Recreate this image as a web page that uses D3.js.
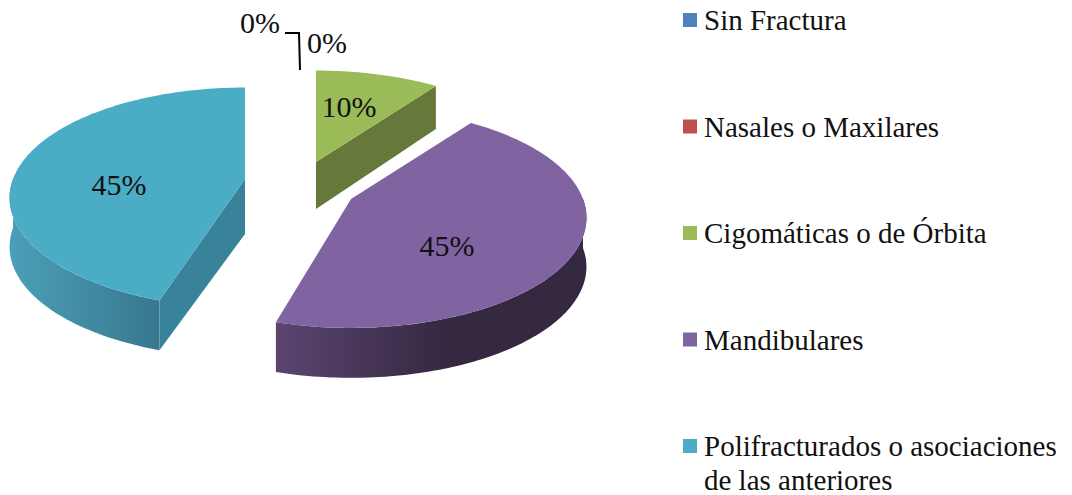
<!DOCTYPE html>
<html>
<head>
<meta charset="utf-8">
<script src="https://cdn.jsdelivr.net/npm/d3@7"></script>
<style>
  html, body { margin: 0; padding: 0; background: #fff; }
  text { font-family: "Liberation Serif", serif; fill: #111; }
</style>
</head>
<body>
<div id="chart"></div>
<script>
const categories = ["Sin Fractura", "Nasales o Maxilares", "Cigomáticas o de Órbita", "Mandibulares", "Polifracturados o asociaciones"];
const values = [0, 0, 10, 45, 45];
const percentLabels = ["0%", "0%", "10%", "45%", "45%"];
const colors = ["#4f81bd", "#c0504d", "#9bbb59", "#8064a2", "#4bacc6"];
const wallColors = ["#3b618e", "#903c3a", "#67793a", "#5b4570", "#38829a"];
const wallDark = ["#2c4a6c", "#6e2e2c", "#55632f", "#352841", "#37788e"];

const width = 1072, height = 495;
const rx = 232, ry = 107, persp = 0.17, depth = 49;

// where each slice's tip ended up after exploding
const tips = [[300, 70], [300, 70], [316, 162], [351, 199], [245, 179]];
const tipDepth = [0, 0, 47, 49, 55];
const endTrim = [0, 0, 0, 0.04, 0];
const labelPos = [[260, 33], [327, 53], [349, 117], [447, 256], [119, 195]];

const svg = d3.select("#chart").append("svg")
  .attr("width", width)
  .attr("height", height);

const defs = svg.append("defs");

const pie = d3.pie().value(d => d).sort(null);
const arcs = pie(values);

// tilted circle with a bit of perspective, front is bigger than back
function project(a, r) {
  const u = Math.sin(a) * r, v = -Math.cos(a) * r;
  const s = 1 / (1 - persp * v);
  return { x: rx * u * s, y: ry * v * s, s: s };
}

function sample(a0, a1) {
  const n = Math.max(2, Math.ceil(Math.abs(a1 - a0) / 0.02));
  return d3.range(n + 1).map(i => a0 + (a1 - a0) * i / n);
}

const line = d3.line().x(d => d[0]).y(d => d[1]);
const wallDrop = p => depth * (p.s < 1 ? p.s : Math.pow(p.s, 0.1));

arcs.forEach((d, i) => {
  if (d.value === 0) return;
  const tip = tips[i];
  const end = d.endAngle - endTrim[i];
  const g = svg.append("g").attr("transform", `translate(${tip[0]},${tip[1]})`);
  const rim = sample(d.startAngle, end).map(a => project(a, 1));

  // outer wall, only the front half can be seen
  const lo = Math.max(d.startAngle, Math.PI / 2), hi = Math.min(end, 3 * Math.PI / 2);
  if (hi > lo) {
    const pts = sample(lo, hi).map(a => project(a, 1));
    const top = pts.map(p => [p.x, p.y]);
    const bottom = pts.slice().reverse().map(p => [p.x, p.y + wallDrop(p)]);
    const gradId = "wall" + i;
    const xs = d3.extent(pts, p => p.x);
    const grad = defs.append("linearGradient").attr("id", gradId)
      .attr("gradientUnits", "userSpaceOnUse")
      .attr("x1", xs[0]).attr("x2", xs[1]).attr("y1", 0).attr("y2", 0);
    if (i === 3) {
      grad.append("stop").attr("offset", 0).attr("stop-color", wallColors[i]);
      grad.append("stop").attr("offset", 0.55).attr("stop-color", wallDark[i]);
      grad.append("stop").attr("offset", 1).attr("stop-color", wallDark[i]);
    } else {
      grad.append("stop").attr("offset", 0).attr("stop-color", "#4b9fb8");
      grad.append("stop").attr("offset", 1).attr("stop-color", wallDark[i]);
    }
    g.append("path")
      .attr("d", line(top.concat(bottom)) + "Z")
      .attr("fill", `url(#${gradId})`);
  }

  // flat cut wall: green faces along its end edge, blue along its start edge
  if (i === 2 || i === 4) {
    const p = project(i === 2 ? d.endAngle : d.startAngle, 1);
    const cut = [[0, 0], [p.x, p.y], [p.x, p.y + wallDrop(p)], [0, tipDepth[i]]];
    g.append("path")
      .attr("d", line(cut) + "Z")
      .attr("fill", wallColors[i]);
  }

  // top face
  const face = [[0, 0]].concat(rim.map(p => [p.x, p.y]));
  g.append("path")
    .attr("d", line(face) + "Z")
    .attr("fill", colors[i]);
});

// leader line for the empty slices
svg.append("path")
  .attr("d", line([[labelPos[0][0] + 25, labelPos[0][1]], [tips[0][0] - 1, labelPos[0][1]], tips[0]]))
  .attr("fill", "none")
  .attr("stroke", "#000")
  .attr("stroke-width", 2);

svg.selectAll("text.pct")
  .data(percentLabels)
  .join("text")
  .attr("class", "pct")
  .attr("x", (d, i) => labelPos[i][0])
  .attr("y", (d, i) => labelPos[i][1])
  .attr("text-anchor", "middle")
  .attr("font-size", 30)
  .text(d => d);

// legend
const legendY = d3.scalePoint().domain(categories).range([20, 446]);

const legend = svg.selectAll("g.legend")
  .data(categories)
  .join("g")
  .attr("class", "legend")
  .attr("transform", d => `translate(683,${legendY(d)})`);

legend.append("rect")
  .attr("x", 0)
  .attr("y", -7)
  .attr("width", 14)
  .attr("height", 14)
  .attr("fill", (d, i) => colors[i]);

legend.append("text")
  .attr("x", 21)
  .attr("y", 10)
  .attr("font-size", 29)
  .text(d => d);

svg.append("text")
  .attr("x", 704)
  .attr("y", 490)
  .attr("font-size", 29)
  .text("de las anteriores");
</script>
</body>
</html>
